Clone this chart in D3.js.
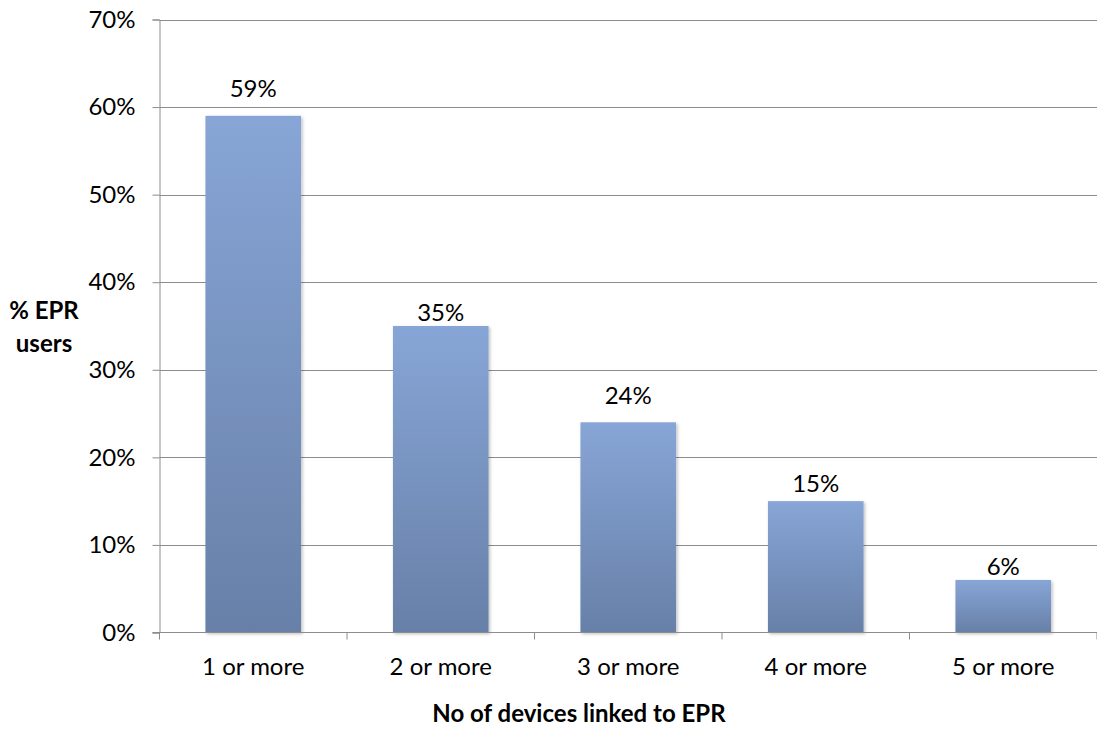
<!DOCTYPE html>
<html>
<head>
<meta charset="utf-8">
<script src="https://cdn.jsdelivr.net/npm/d3@7"></script>
<style>
  html, body { margin: 0; padding: 0; background: #fff; }
  svg text { font-family: Lato, "Open Sans", "Liberation Sans", sans-serif; fill: #000; }
</style>
</head>
<body>
<svg id="chart" width="1097" height="729"></svg>
<script>
// Share of EPR users by number of linked devices
const categories = ["1 or more", "2 or more", "3 or more", "4 or more", "5 or more"];
const values = [59, 35, 24, 15, 6];
const yTicks = [0, 10, 20, 30, 40, 50, 60, 70];

// Clearance (px) between each value label's baseline and its bar top
const labelGap = [19, 5, 18, 9, 5];

const svg = d3.select("#chart");
const margin = { left: 159.5, right: 0, top: 19.5, bottom: 96.5 };
const W = 1097, H = 729;
const FONT = 24;

const x = d3.scaleBand()
  .domain(categories)
  .range([margin.left, W - margin.right])
  .paddingInner(0.49)
  .paddingOuter(0.245);

const y = d3.scaleLinear()
  .domain([0, 70])
  .range([H - margin.bottom, margin.top]);

// Bar fill gradient and soft shadow
const defs = svg.append("defs");
const grad = defs.append("linearGradient")
  .attr("id", "barGrad").attr("x1", 0).attr("y1", 0).attr("x2", 0).attr("y2", 1);
grad.append("stop").attr("offset", "0%").attr("stop-color", "#87a5d6");
grad.append("stop").attr("offset", "100%").attr("stop-color", "#6780a8");

const shadow = defs.append("filter").attr("id", "shadow")
  .attr("x", "-10%").attr("y", "-10%").attr("width", "130%").attr("height", "130%");
shadow.append("feDropShadow")
  .attr("dx", 1.5).attr("dy", 1.5).attr("stdDeviation", 1.5)
  .attr("flood-color", "#000").attr("flood-opacity", 0.25);

// Horizontal gridlines
svg.append("g")
  .selectAll("line")
  .data(yTicks.filter(d => d > 0))
  .join("line")
  .attr("x1", margin.left).attr("x2", W - margin.right)
  .attr("y1", d => Math.round(y(d)) + 0.5).attr("y2", d => Math.round(y(d)) + 0.5)
  .attr("stroke", "#8c8c8c").attr("stroke-width", 1);

// Y axis
const yAxis = svg.append("g")
  .attr("transform", `translate(${margin.left},0)`)
  .call(d3.axisLeft(y).tickValues(yTicks).tickFormat(d => d + "%").tickSize(7).tickPadding(17));
yAxis.select(".domain").attr("stroke", "#8c8c8c");
yAxis.selectAll(".tick line").attr("stroke", "#8c8c8c");
yAxis.selectAll(".tick text").attr("font-size", FONT);

// Bars
svg.append("g")
  .selectAll("rect")
  .data(values)
  .join("rect")
  .attr("x", (d, i) => x(categories[i]))
  .attr("y", d => y(d))
  .attr("width", x.bandwidth())
  .attr("height", d => y(0) - y(d))
  .attr("fill", "url(#barGrad)")
  .attr("filter", "url(#shadow)");

// Value labels
svg.append("g")
  .selectAll("text")
  .data(values)
  .join("text")
  .attr("x", (d, i) => x(categories[i]) + x.bandwidth() / 2)
  .attr("y", (d, i) => y(d) - labelGap[i])
  .attr("text-anchor", "middle")
  .attr("font-size", FONT)
  .text(d => d + "%");

// X axis with ticks at category boundaries
const xg = svg.append("g");
xg.append("line")
  .attr("x1", margin.left - 7).attr("x2", W - margin.right)
  .attr("y1", y(0)).attr("y2", y(0))
  .attr("stroke", "#8c8c8c");
const step = x.step();
const bounds = d3.range(categories.length + 1).map(i => margin.left + i * step);
xg.selectAll("line.b")
  .data(bounds)
  .join("line")
  .attr("class", "b")
  .attr("x1", d => d).attr("x2", d => d)
  .attr("y1", y(0)).attr("y2", y(0) + 7)
  .attr("stroke", "#8c8c8c");
xg.selectAll("text")
  .data(categories)
  .join("text")
  .attr("x", d => x(d) + x.bandwidth() / 2)
  .attr("y", y(0) + 42)
  .attr("text-anchor", "middle")
  .attr("font-size", FONT)
  .text(d => d);

// Axis titles
svg.append("text")
  .attr("x", 579)
  .attr("y", 722)
  .attr("text-anchor", "middle")
  .attr("font-size", 24).attr("font-weight", "bold")
  .text("No of devices linked to EPR");

const yTitle = svg.append("text")
  .attr("text-anchor", "middle")
  .attr("font-size", 24).attr("font-weight", "bold");
yTitle.append("tspan").attr("x", 44).attr("y", 319).text("% EPR");
yTitle.append("tspan").attr("x", 44).attr("y", 352).text("users");
</script>
</body>
</html>
